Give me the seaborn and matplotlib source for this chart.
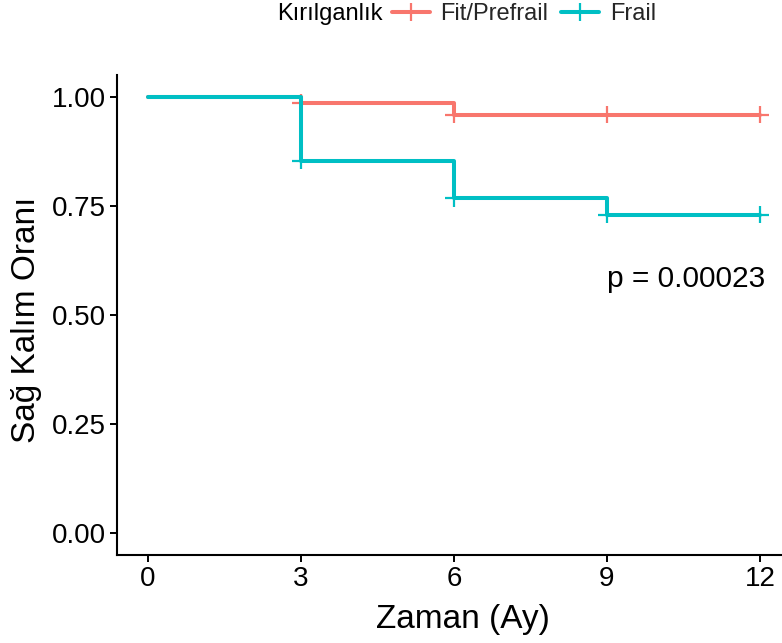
import matplotlib
matplotlib.use("Agg")
import matplotlib.pyplot as plt
from matplotlib.lines import Line2D
import numpy as np
import pandas as pd
import seaborn as sns

# Kaplan-Meier survival estimates per frailty group
groups = ["Fit/Prefrail", "Frail"]
times = [0, 3, 6, 9, 12]
surv_fit = [1.000, 0.986, 0.959, 0.959, 0.959]
surv_frail = [1.000, 0.854, 0.768, 0.730, 0.730]
censor_times = [3, 6, 9, 12]
palette_colors = ["#F8766D", "#00BFC4"]
x_ticks = [0, 3, 6, 9, 12]
y_ticks = [0.00, 0.25, 0.50, 0.75, 1.00]
p_label = "p = 0.00023"
legend_title = "Kırılganlık"

sns.set_theme(style="ticks")
plt.rcParams["font.family"] = ["Liberation Sans", "DejaVu Sans"]

curves = pd.DataFrame({
    "time": times * 2,
    "surv": surv_fit + surv_frail,
    "group": [groups[0]] * len(times) + [groups[1]] * len(times),
})

def step_value(t, ts, vs):
    idx = np.searchsorted(ts, t, side="right") - 1
    return vs[idx]

censor_rows = []
for g, vals in zip(groups, [surv_fit, surv_frail]):
    for t in censor_times:
        censor_rows.append({"time": t, "surv": step_value(t, times, vals), "group": g})
censors = pd.DataFrame(censor_rows)

palette = dict(zip(groups, palette_colors))

W, H = 782, 643
fig = plt.figure(figsize=(W / 100, H / 100), dpi=100)
ax = fig.add_axes([117 / W, 88 / H, 665 / W, 480 / H])

sns.lineplot(data=curves, x="time", y="surv", hue="group", hue_order=groups,
             palette=palette, drawstyle="steps-post", linewidth=2.9,
             estimator=None, legend=False, ax=ax)
sns.scatterplot(data=censors, x="time", y="surv", hue="group", hue_order=groups,
                palette=palette, marker="+", s=160, linewidth=1.6,
                legend=False, ax=ax)

ax.set_xlim(-0.6, 12.43)
ax.set_ylim(-0.05, 1.05)
ax.set_xticks(x_ticks)
ax.set_xticklabels([str(t) for t in x_ticks])
ax.set_yticks(y_ticks)
ax.set_yticklabels([f"{v:.2f}" for v in y_ticks])

for side in ["top", "right"]:
    ax.spines[side].set_visible(False)
for side in ["left", "bottom"]:
    ax.spines[side].set_linewidth(1.5)
    ax.spines[side].set_color("black")
ax.tick_params(axis="both", length=5, width=1.4, color="black",
               labelsize=20, labelcolor="black", pad=3)

ax.set_xlabel("Zaman (Ay)", fontsize=24, color="black")
ax.set_ylabel("Sağ Kalım Oranı", fontsize=24, color="black")
ax.xaxis.label.set_verticalalignment("baseline")
ax.yaxis.label.set_verticalalignment("baseline")
ax.xaxis.set_label_coords(0.52, -0.152)
ax.yaxis.set_label_coords(-0.1233, 0.49)

ax.text(9.0, 0.564, p_label, fontsize=21.5, ha="left", va="baseline", color="black")

# Legend across the top: title on the left, entries inline
fig.text(277 / W, 1 - 14 / H, legend_title, fontsize=17, ha="left", va="center",
         color="black")
handles = [Line2D([], [], color=c, lw=2.9, marker="+", markersize=13, mew=1.6)
           for c in palette_colors]
fig.legend(handles, groups, loc="center left", bbox_to_anchor=(392 / W, 1 - 14 / H),
           ncol=2, frameon=False, fontsize=17, handlelength=1.6,
           handletextpad=0.45, columnspacing=0.55, borderpad=0, borderaxespad=0)

fig.savefig("out.png", dpi=100)
